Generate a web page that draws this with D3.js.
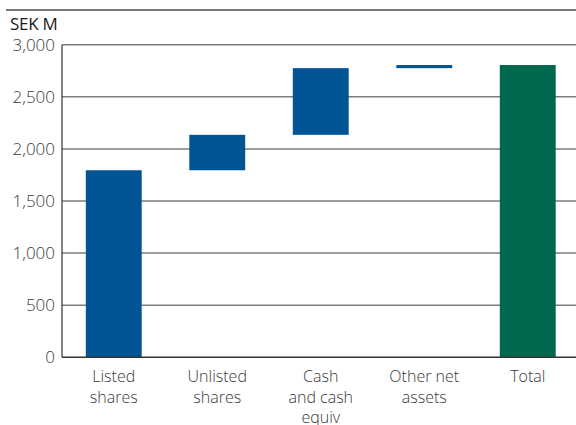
<!DOCTYPE html>
<html><head><meta charset="utf-8">
<script src="https://cdn.jsdelivr.net/npm/d3@7"></script>
<style>body{margin:0;background:#fff}svg{display:block}text{font-family:"Open Sans","Noto Sans",sans-serif;}</style>
</head><body>
<script>
const categories = [["Listed","shares"],["Unlisted","shares"],["Cash","and cash","equiv"],["Other net","assets"],["Total"]];
const deltas = [1795, 340, 640, 30];
const total = 2805;
const yTicks = [0,500,1000,1500,2000,2500,3000];

const W=576,H=425;
const svg=d3.select("body").append("svg").attr("width",W).attr("height",H);
const x=d3.scaleBand().domain(d3.range(categories.length)).range([62,579.5]).paddingInner(0.46).paddingOuter(0.23);
const y=d3.scaleLinear().domain([0,3000]).range([357.3,44.7]);

// top rule
svg.append("line").attr("x1",6).attr("x2",W).attr("y1",10).attr("y2",10).attr("stroke","#7a7a7a").attr("stroke-width",2);
svg.append("text").attr("x",10).attr("y",30).text("SEK M").attr("font-size",17).attr("fill","#1a1a1a").attr("letter-spacing","-0.3");

// gridlines
svg.append("g").selectAll("line").data(yTicks.filter(d=>d>0)).join("line")
 .attr("x1",62).attr("x2",W).attr("y1",d=>y(d)).attr("y2",d=>y(d)).attr("stroke","#7d7d7d").attr("stroke-width",1.5);

// y tick labels
svg.append("g").selectAll("text").data(yTicks).join("text")
 .attr("x",55).attr("y",d=>y(d)+6).attr("text-anchor","end").attr("font-size",17).attr("font-weight",300).attr("fill","#3a3a3a")
 .text(d=>d3.format(",")(d));

// bars
let cum=0;
const bars=deltas.map((d,i)=>{const b={i,y0:cum,y1:cum+d,color:"#015594"};cum+=d;return b;});
bars.push({i:4,y0:0,y1:total,color:"#00684c"});
svg.append("g").selectAll("rect").data(bars).join("rect")
 .attr("x",d=>x(d.i)).attr("width",x.bandwidth())
 .attr("y",d=>y(d.y1)).attr("height",d=>y(d.y0)-y(d.y1)).attr("fill",d=>d.color);

// axes lines
svg.append("line").attr("x1",62).attr("x2",62).attr("y1",y(3000)).attr("y2",y(0)).attr("stroke","#333").attr("stroke-width",1.2);
svg.append("line").attr("x1",62).attr("x2",W).attr("y1",y(0)).attr("y2",y(0)).attr("stroke","#333").attr("stroke-width",1.5);

// category labels
const g=svg.append("g").selectAll("text").data(categories).join("text")
 .attr("text-anchor","middle").attr("font-size",16).attr("font-weight",300).attr("fill","#3a3a3a");
g.each(function(lines,i){
  d3.select(this).selectAll("tspan").data(lines).join("tspan")
   .attr("x",x(i)+x.bandwidth()/2).attr("y",(l,j)=>382+j*20.5).text(l=>l);
});
</script>
</body></html>
